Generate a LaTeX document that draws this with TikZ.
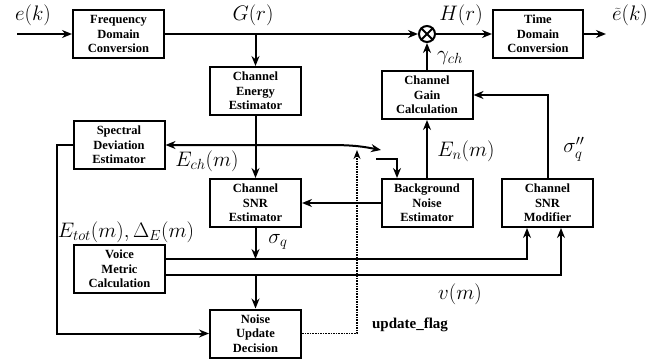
\RequirePackage{fix-cm}
\documentclass[tikz,border=0pt]{standalone}
\usepackage{fontspec}
\setmainfont{Liberation Serif}
\usetikzlibrary{arrows.meta, positioning}
\tikzset{
  blk/.style={draw, line width=2pt, minimum width=91pt, minimum height=48pt,
    align=center, inner sep=1pt, font=\fontsize{12.5}{14.5}\selectfont\bfseries},
  arr/.style={-{Stealth[length=10pt, width=8pt]}, line width=2pt},
  arrtwo/.style={{Stealth[length=10pt, width=8pt]}-{Stealth[length=10pt, width=8pt]}, line width=2pt},
  flagline/.style={-{Stealth[length=9pt, width=7pt]}, line width=1.6pt, densely dotted},
  lbl/.style={font=\fontsize{21}{23}\selectfont, inner sep=0pt},
}

\begin{document}
\begin{tikzpicture}[x=1pt, y=1pt]
    \useasboundingbox (0,0) rectangle (651,360);
    % blocks
    \node[blk] (fdc) at (118.5,326) {Frequency\\Domain\\Conversion};
    \node[blk] (cee) at (255.5,269) {Channel\\Energy\\Estimator};
    \node[blk] (sde) at (119,215)   {Spectral\\Deviation\\Estimator};
    \node[blk] (cse) at (255.5,157) {Channel\\SNR\\Estimator};
    \node[blk] (vmc) at (119.5,91)  {Voice\\Metric\\Calculation};
    \node[blk] (nud) at (255.5,26.5) {Noise\\Update\\Decision};
    \node[blk] (bne) at (427,157)   {Background\\Noise\\Estimator};
    \node[blk] (cgc) at (427,265)   {Channel\\Gain\\Calculation};
    \node[blk] (csm) at (547.5,157) {Channel\\SNR\\Modifier};
    \node[blk, minimum width=90pt] (tdc) at (538,326) {Time\\Domain\\Conversion};
    \node[draw, circle, line width=2pt, minimum size=16pt, inner sep=0pt] (mult) at (427,326) {};
    \draw[line width=2pt] (mult.north west) -- (mult.south east)
      (mult.north east) -- (mult.south west);
    % free ends
    \coordinate (in)   at (17,326);
    \coordinate (out)  at (606,326);
    \coordinate (gj)   at (cee.north |- fdc.east);
    \coordinate (echend) at (381,210);
    \coordinate (bin)  at (376,201);
    \coordinate (sq)   at (cse.south |- 0,101);
    \coordinate (nj)   at (nud.north |- 0,85);
    \coordinate (flagtip) at (357,210);
    % connectors
    \draw[arr] (in) -- (fdc.west);
    \draw[arr] (fdc.east) -- (mult.west);
    \draw[arr] (gj) -- (cee.north);
    \draw[arr] (cee.south) -- (cse.north);
    \draw[arrtwo] (sde.east) -- (330,215) .. controls (355,215) and (365,213) .. (echend);
    \draw[arr] (bin) -| ([xshift=16.5pt]bne.north west);
    \draw[arr] (bne.west) -- (cse.east);
    \draw[arr] (bne.north) -- (cgc.south);
    \draw[arr] (cgc.north) -- (mult.south);
    \draw[arr] (csm.north) |- (cgc.east);
    \draw[arr] (mult.east) -- (tdc.west);
    \draw[arr] (tdc.east) -- (out);
    \draw[arr] (cse.south) -- (sq);
    \draw[arr] ([yshift=10pt]vmc.east) -| ([xshift=26pt]csm.south west);
    \draw[arr] ([yshift=-6pt]vmc.east) -| ([xshift=60pt]csm.south west);
    \draw[arr] (nj) -- (nud.north);
    \draw[arr] (sde.west) -- ++(-15.5,0) |- (nud.west);
    \draw[flagline] (nud.east) -| (flagtip);
    % labels
    \node[lbl] (lek)  at (33,345)   {$e(k)$};
    \node[lbl] (lgr)  at (253,345)  {$G(r)$};
    \node[lbl] (lhr)  at (461,345)  {$H(r)$};
    \node[lbl] (lek2) at (630,345)  {$\widetilde{e}(k)$};
    \node[lbl] (lgam) at (450,302)  {$\gamma_{ch}$};
    \node[lbl] (lech) at (207,199)  {$E_{ch}(m)$};
    \node[lbl] (len)  at (466,209)  {$E_{n}(m)$};
    \node[lbl] (lsig) at (574,211)  {$\sigma''_{q}$};
    \node[lbl] (ltot) at (126,128)  {$E_{tot}(m), \Delta_{E}(m)$};
    \node[lbl] (lsq)  at (278,118)  {$\sigma_{q}$};
    \node[lbl] (lvm)  at (460,66)   {$v(m)$};
    \node[font=\fontsize{15}{17}\selectfont\bfseries, inner sep=0pt] (lflag) at (410,35) {update\_flag};
\end{tikzpicture}
\end{document}
